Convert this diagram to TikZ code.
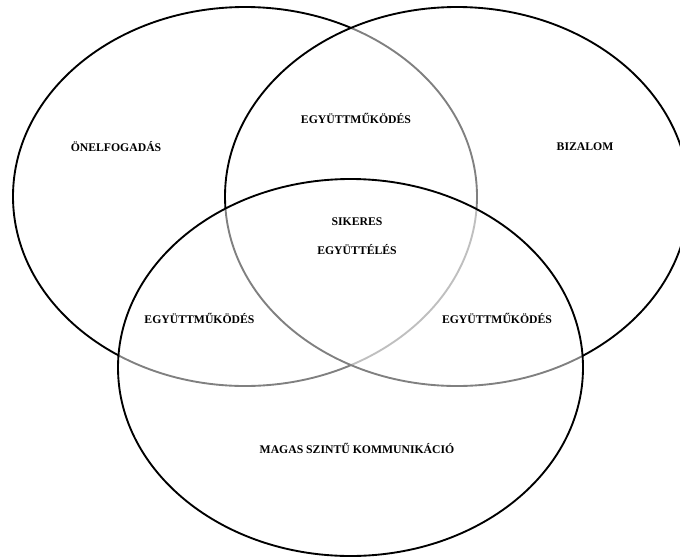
\documentclass[tikz,border=0pt]{standalone}
\usepackage{fontspec}
\setmainfont{Liberation Serif}
\usepackage{tikz}
\begin{document}
\begin{tikzpicture}[x=0.03cm, y=-0.03cm,
        setline/.style={draw=black, line width=1.6pt, fill=white, fill opacity=0.5},
        setlabel/.style={font=\bfseries\fontsize{10}{12}\selectfont, inner sep=1pt}]
        \useasboundingbox (0,0) rectangle (680,558);
        \clip (0,0) rectangle (680,558);
        % Draw sets
        \draw[setline] (245,196.5) ellipse [x radius=232, y radius=189.5];
        \draw[setline] (457,196.5) ellipse [x radius=232, y radius=189.5];
        \draw[setline] (350.5,367.5) ellipse [x radius=232.5, y radius=188.5];
        % Draw labels
        \node[setlabel] (onelf) at (116,147) {ÖNELFOGADÁS};
        \node[setlabel] (bizalom) at (585,147) {BIZALOM};
        \node[setlabel] (egyuttTop) at (356,118) {EGYÜTTMŰKÖDÉS};
        \node[setlabel] (sikeres) at (357,222) {SIKERES};
        \node[setlabel] (egyuttel) at (357,250) {EGYÜTTÉLÉS};
        \node[setlabel] (egyuttLeft) at (199.5,318) {EGYÜTTMŰKÖDÉS};
        \node[setlabel] (egyuttRight) at (497,318) {EGYÜTTMŰKÖDÉS};
        \node[setlabel] (magas) at (357,448) {MAGAS SZINTŰ KOMMUNIKÁCIÓ};
\end{tikzpicture}
\end{document}
